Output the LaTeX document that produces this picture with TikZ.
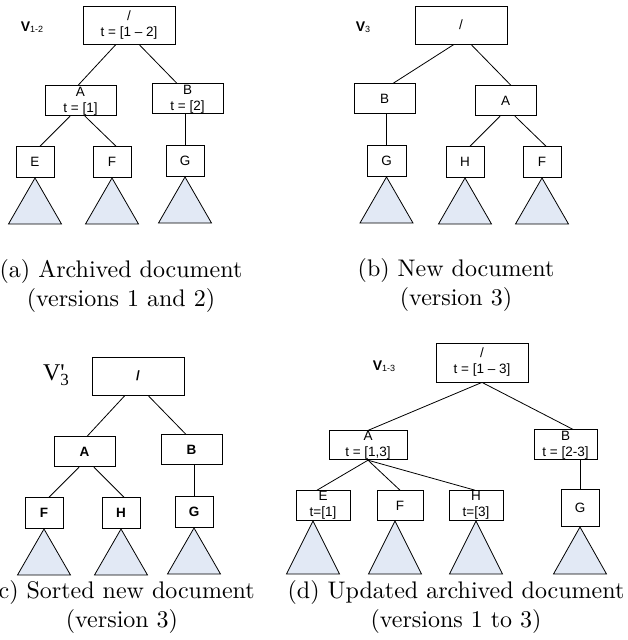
\documentclass[tikz,border=0pt]{standalone}
\usepackage{fontspec}
\usepackage{xcolor}
\usepackage{tikz}
\usetikzlibrary{positioning}

\newfontfamily\boxfont{Liberation Sans}
\newfontfamily\seriffont{Liberation Serif}
\definecolor{treefill}{RGB}{226,233,245}

\begin{document}
\begin{tikzpicture}[
  x=1pt, y=-1pt,
  box/.style={draw, line width=0.8pt, inner sep=0pt, align=center, font=\boxfont\fontsize{13.5}{16}\selectfont},
  rootbox/.style={box, minimum width=92pt, minimum height=38pt},
  midbox/.style={box, minimum width=61pt, minimum height=30pt},
  leafbox/.style={box, minimum width=38pt, minimum height=31pt},
  boldbox/.style={font=\boxfont\bfseries\fontsize{13.5}{16}\selectfont},
  link/.style={line width=0.8pt},
  subtree/.style={draw, line width=0.8pt, fill=treefill, line join=miter},
  caption/.style={align=center, scale=2.4},
  vlabel/.style={inner sep=0pt, font=\boxfont}
]
\useasboundingbox (0,0) rectangle (628,640);

% (a) archived document
\node[rootbox] (aroot) at (129,25) {/\\t = [1 – 2]};
\node[midbox, minimum width=71pt, below=41pt of aroot, xshift=-48.5pt] (aA) {A\\t = [1]};
\node[midbox, minimum width=71pt, below=39pt of aroot, xshift=58.5pt] (aB) {B\\t = [2]};
\node[leafbox, below=30pt of aA, xshift=-45.5pt] (aE) {E};
\node[leafbox, below=30pt of aA, xshift=31.5pt] (aF) {F};
\node[leafbox, below=31pt of aB, xshift=-2.5pt] (aG) {G};
\node[vlabel] (aV) at (32,27) {\fontsize{14}{16}\selectfont\bfseries V\raisebox{-1pt}{\fontsize{9}{10}\selectfont\mdseries 1-2}};

\draw[link] ([xshift=-13pt]aroot.south) -- ([xshift=-2.5pt]aA.north);
\draw[link] ([xshift=10pt]aroot.south) -- ([xshift=-10.5pt]aB.north);
\draw[link] ([xshift=-10.5pt]aA.south) -- ([xshift=5pt]aE.north);
\draw[link] ([xshift=4.5pt]aA.south) -- ([xshift=4pt]aF.north);
\draw[link] (aG.north) -- (aG.north |- aB.south);

% (b) new document
\node[rootbox] (broot) at (461,25) {/};
\node[midbox, below=39pt of broot, xshift=-76.5pt] (bB) {B};
\node[midbox, below=41pt of broot, xshift=44.5pt] (bA) {A};
\node[leafbox, minimum width=39pt, below=31pt of bB, xshift=2pt] (bG) {G};
\node[leafbox, below=30pt of bA, xshift=-40.5pt] (bH) {H};
\node[leafbox, below=30pt of bA, xshift=36.5pt] (bF) {F};
\node[vlabel] (bV) at (363,27) {\fontsize{14}{16}\selectfont\bfseries V\raisebox{-1pt}{\fontsize{9}{10}\selectfont\mdseries 3}};

\draw[link] ([xshift=-7pt]broot.south) -- ([xshift=8.5pt]bB.north);
\draw[link] ([xshift=10pt]broot.south) -- ([xshift=5.5pt]bA.north);
\draw[link] (bG.north) -- (bG.north |- bB.south);
\draw[link] ([xshift=-5.5pt]bA.south) -- ([xshift=5pt]bH.north);
\draw[link] ([xshift=9.5pt]bA.south) -- ([xshift=4pt]bF.north);

% (c) sorted new document
\node[rootbox, boldbox] (croot) at (138,376) {/};
\node[midbox, boldbox, below=41pt of croot, xshift=-53.5pt] (cA) {A};
\node[midbox, boldbox, below=39pt of croot, xshift=53.5pt] (cB) {B};
\node[leafbox, boldbox, below=30pt of cA, xshift=-40.5pt] (cF) {F};
\node[leafbox, boldbox, below=30pt of cA, xshift=36.5pt] (cH) {H};
\node[leafbox, boldbox, below=31pt of cB, xshift=2.5pt] (cG) {G};
\node[vlabel, font=\seriffont] (cV) at (56,375) {\fontsize{24}{26}\selectfont V\makebox[0pt][l]{'}\raisebox{-5pt}{\fontsize{17}{18}\selectfont 3}};

\draw[link] ([xshift=-13pt]croot.south) -- ([xshift=2.5pt]cA.north);
\draw[link] ([xshift=10pt]croot.south) -- ([xshift=-5.5pt]cB.north);
\draw[link] ([xshift=-5.5pt]cA.south) -- ([xshift=5pt]cF.north);
\draw[link] ([xshift=9.5pt]cA.south) -- ([xshift=3pt]cH.north);
\draw[link] (cG.north) -- (cG.north |- cB.south);

% (d) updated archived document
\node[rootbox, minimum height=39pt] (droot) at (482,362.5) {/\\t = [1 – 3]};
\node[midbox, minimum width=78pt, minimum height=29pt, below=48pt of droot, xshift=-114pt] (dA) {A\\t = [1,3]};
\node[midbox, minimum width=63pt, below=47pt of droot, xshift=83.5pt] (dB) {B\\t = [2-3]};
\node[leafbox, minimum width=54pt, minimum height=30pt, below=30pt of dA, xshift=-45pt] (dE) {E\\t=[1]};
\node[leafbox, minimum width=46pt, minimum height=30pt, below=30pt of dA, xshift=32pt] (dF) {F};
\node[leafbox, minimum width=54pt, minimum height=30pt, below=30pt of dA, xshift=108pt] (dH) {H\\t=[3]};
\node[leafbox, minimum height=37pt, below=29pt of dB, xshift=14.5pt] (dG) {G};
\node[vlabel] (dV) at (384,366) {\fontsize{14}{16}\selectfont\bfseries V\raisebox{-1pt}{\fontsize{9}{10}\selectfont\mdseries 1-3}};

\draw[link] (droot.south) -- (dA.north);
\draw[link] (droot.south) -- ([xshift=7.5pt]dB.north);
\draw[link] (dA.south) -- ([xshift=-6pt]dE.north);
\draw[link] (dA.south) -- (dF.north);
\draw[link] (dA.south) -- ([xshift=-1pt]dH.north);
\draw[link] (dG.north) -- (dG.north |- dB.south);

% Subtrees
\foreach \n/\dx/\h in {aE/0/46, aF/0/46, aG/0/46, bG/0/46, bH/0/46, bF/0/46,
                       cF/0/46, cH/0/46, cG/0/46, dE/-10/53, dF/-5/53, dH/0/53, dG/0/47}
  \draw[subtree] ([xshift=\dx pt]\n.south) -- ++(-26.5,\h) -- ++(53,0) -- cycle;

% Captions
\node[caption] (capa) at (121,286) {(a) Archived document\\(versions 1 and 2)};
\node[caption] (capb) at (456,285) {(b) New document\\(version 3)};
\node[caption] (capc) at (122,607) {(c) Sorted new document\\(version 3)};
\node[caption] (capd) at (456,607) {(d) Updated archived document\\(versions 1 to 3)};

\end{tikzpicture}
\end{document}
